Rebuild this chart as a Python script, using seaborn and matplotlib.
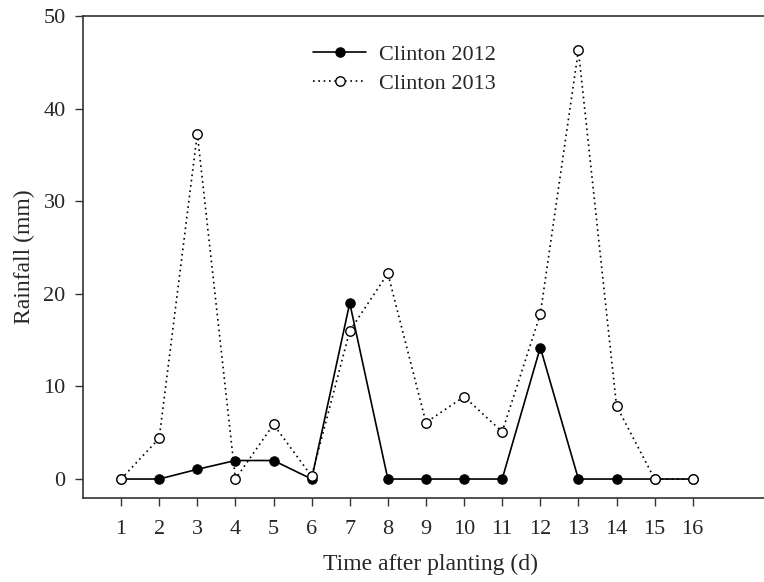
import matplotlib
matplotlib.use("Agg")
import matplotlib.pyplot as plt
import seaborn as sns
import pandas as pd

days = list(range(1, 17))
clinton_2012 = [0, 0, 1.05, 2.0, 2.0, 0, 19.0, 0, 0, 0, 0, 14.2, 0, 0, 0, 0]
clinton_2013 = [0, 4.4, 37.3, 0, 5.9, 0.3, 16.0, 22.2, 6.1, 8.9, 5.1, 17.8, 46.3, 7.9, 0, 0]
x_ticks = list(range(1, 17))
y_ticks = [0, 10, 20, 30, 40, 50]

sns.set_style("white")
plt.rcParams['font.family'] = ['Liberation Serif', 'DejaVu Serif']

df12 = pd.DataFrame({"day": days, "rain": clinton_2012})
df13 = pd.DataFrame({"day": days, "rain": clinton_2013})

fig = plt.figure(figsize=(7.64, 5.82), dpi=100)
ax = fig.add_axes([0.1086, 0.1443, 0.8914, 0.8282])

sns.lineplot(data=df12, x="day", y="rain", ax=ax, color="black", linewidth=1.2,
             marker="o", markersize=6.8, markerfacecolor="black",
             markeredgecolor="black", label="Clinton 2012", zorder=3)
sns.lineplot(data=df13, x="day", y="rain", ax=ax, color="black", linewidth=1.2,
             linestyle=(0, (1, 2.2)), marker="o", markersize=6.8,
             markerfacecolor="white", markeredgecolor="black",
             markeredgewidth=1.0, label="Clinton 2013", zorder=4)

ax.set_xlim(0, 17.87)
ax.set_ylim(-2.05, 50)
ax.set_xticks(x_ticks)
ax.set_yticks(y_ticks)
ax.tick_params(axis="both", direction="out", length=5.5, width=1.0, color="#333333",
               labelsize=16, bottom=True, left=True)
ax.tick_params(axis="x", pad=10)
ax.tick_params(axis="y", pad=7)
ax.set_xlabel("Time after planting (d)", fontsize=17, labelpad=12)
ax.xaxis.set_label_coords(0.511, -0.115)
ax.set_ylabel("Rainfall (mm)", fontsize=17, labelpad=6)

for s in ["left", "bottom", "top"]:
    ax.spines[s].set_visible(True)
    ax.spines[s].set_color("#333333")
    ax.spines[s].set_linewidth(1.2)
ax.spines["right"].set_visible(False)

leg = ax.legend(loc="upper left", bbox_to_anchor=(0.338, 0.942), frameon=False,
                fontsize=16, handlelength=2.4, handletextpad=0.55, labelspacing=0.4,
                borderaxespad=0, borderpad=0)

fig.savefig("out.png", dpi=100)
